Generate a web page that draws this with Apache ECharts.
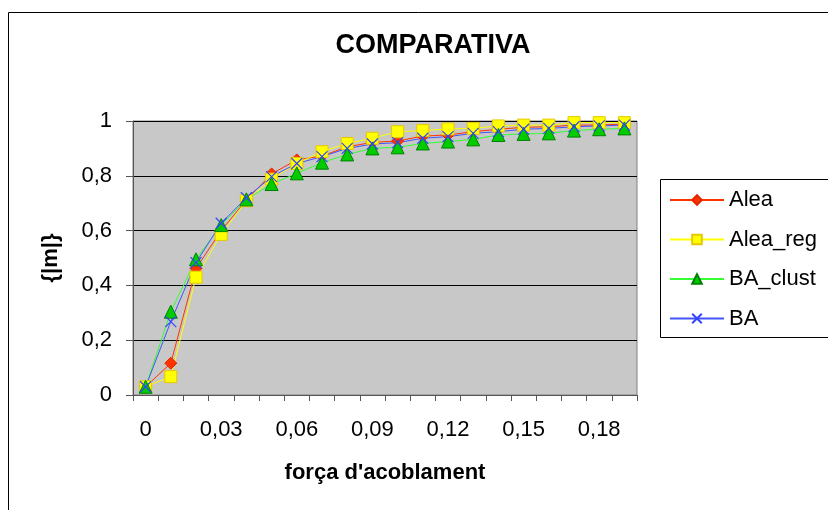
<!DOCTYPE html>
<html><head><meta charset="utf-8">
<script src="https://cdn.jsdelivr.net/npm/echarts@6/dist/echarts.min.js"></script>
<style>html,body{margin:0;padding:0;background:#fff}#c{width:828px;height:510px}</style>
</head><body><div id="c"></div>
<script>
var categories = ['0','0,01','0,02','0,03','0,04','0,05','0,06','0,07','0,08','0,09','0,1','0,11','0,12','0,13','0,14','0,15','0,16','0,17','0,18','0,19'];
var alea     = [0.03,0.116,0.462,0.600,0.712,0.807,0.858,0.872,0.906,0.922,0.927,0.945,0.949,0.961,0.970,0.977,0.979,0.985,0.985,0.989];
var aleaReg  = [0.03,0.067,0.430,0.586,0.709,0.788,0.845,0.888,0.918,0.937,0.961,0.965,0.971,0.973,0.982,0.985,0.985,0.994,0.994,0.994];
var baClust  = [0.03,0.304,0.495,0.620,0.714,0.770,0.809,0.848,0.878,0.900,0.904,0.918,0.925,0.933,0.949,0.953,0.955,0.965,0.970,0.973];
var ba       = [0.03,0.268,0.483,0.627,0.720,0.797,0.845,0.870,0.900,0.916,0.921,0.937,0.943,0.955,0.961,0.970,0.973,0.979,0.982,0.985];
var yTicks = [0,0.2,0.4,0.6,0.8,1];

var font = 'Liberation Sans, Arial, sans-serif';
var chart = echarts.init(document.getElementById('c'), null, {renderer:'canvas'});
function ser(name, data, lineColor, symbol, size, fill, border, bw){
  return {name:name, type:'line', data:data, symbol:symbol, symbolSize:size,
    showSymbol:true, animation:false,
    lineStyle:{color:lineColor, width:1},
    itemStyle:{color:fill, borderColor:border, borderWidth:bw},
    emphasis:{disabled:true}};
}
chart.setOption({
  backgroundColor:'#fff',
  animation:false,
  graphic:[
    {type:'rect', shape:{x:8.5, y:12.5, width:840, height:520}, style:{fill:'none', stroke:'#000', lineWidth:1}, z:-1},
    {type:'rect', shape:{x:660.5, y:179.5, width:200, height:158}, style:{fill:'#fff', stroke:'#000', lineWidth:1}, z:0}
  ],
  title:{text:'COMPARATIVA', left:428, top:27, textAlign:'center',
    textStyle:{fontFamily:font, fontWeight:'bold', fontSize:27, color:'#000'}},
  legend:{orient:'vertical', left:669, top:189, itemWidth:54, itemHeight:12, itemGap:17.5, padding:0,
    textStyle:{fontFamily:font, fontSize:22, lineHeight:22, color:'#000'}, z:5,
    data:['Alea','Alea_reg','BA_clust','BA']},
  grid:{left:133, right:191, top:121, bottom:115, show:true, backgroundColor:'#c8c8c8', borderColor:'#808080', borderWidth:1},
  xAxis:{type:'category', data:categories, boundaryGap:true,
    name:"força d'acoblament", nameLocation:'middle', nameGap:67,
    nameTextStyle:{fontFamily:font, fontWeight:'bold', fontSize:22, color:'#000'},
    axisLine:{lineStyle:{color:'#555', width:1}},
    axisTick:{show:true, interval:0, length:6, lineStyle:{color:'#555'}},
    axisLabel:{interval:2, fontFamily:font, fontSize:22, color:'#000', margin:24}},
  yAxis:{type:'value', min:0, max:1, interval:0.2,
    name:'{|m|}', nameLocation:'middle', nameGap:71,
    nameTextStyle:{fontFamily:font, fontWeight:'bold', fontSize:22, color:'#000'},
    axisLine:{show:true, lineStyle:{color:'#555', width:1}},
    axisTick:{show:true, length:7, lineStyle:{color:'#555'}},
    splitLine:{lineStyle:{color:'#000', width:1}},
    axisLabel:{fontFamily:font, fontSize:22, color:'#000', margin:21,
      formatter:function(v){ return yTicks.indexOf(Math.round(v*10)/10)>=0 ? String(Math.round(v*10)/10).replace('.',',') : ''; }}},
  series:[
    ser('Alea', alea, '#ff3300', 'diamond', 12, '#ff3300', '#e02800', 1),
    ser('Alea_reg', aleaReg, '#ffff00', 'rect', 12, '#ffff00', '#e6c800', 1),
    ser('BA_clust', baClust, '#33ff33', 'triangle', 13, '#00cc00', '#008000', 1),
    ser('BA', ba, '#4455ff', 'path://M0,0L10,10M10,0L0,10', 11, 'none', '#3344ff', 1.2)
  ]
});
</script></body></html>
